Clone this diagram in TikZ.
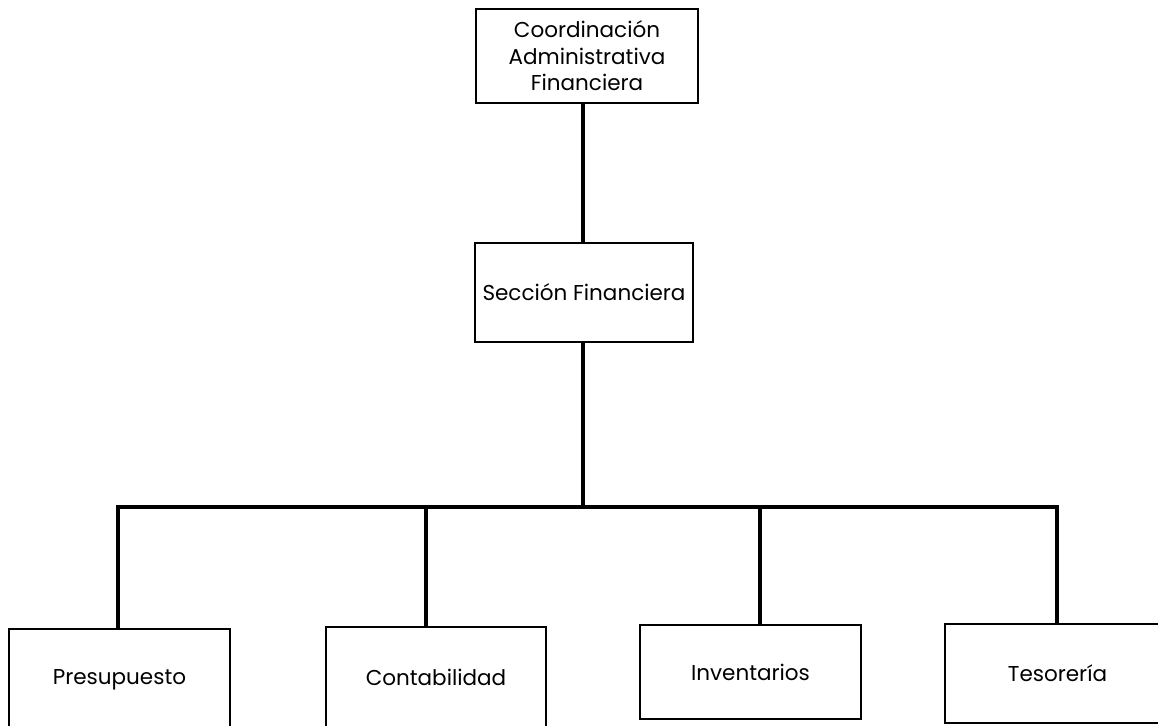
\documentclass[tikz,border=0pt]{standalone}
\usepackage{fontspec}
\setmainfont{Poppins}
\begin{document}
\begin{tikzpicture}[x=1pt,y=-1pt,
  box/.style={draw=black,line width=2.2pt,fill=white,inner sep=0pt,
    font=\fontsize{21.5}{26.5}\selectfont,align=center},
  link/.style={draw=black,line width=4pt}]
\useasboundingbox (0,0) rectangle (1158,725);
\clip (0,0) rectangle (1158,725);
% boxes
\node[box,minimum width=222pt,minimum height=94pt] (coord) at (587,56)
  {Coordinación\\Administrativa\\Financiera};
\node[box,minimum width=218pt,minimum height=99pt] (sec) at (584,292.5)
  {Sección Financiera};
\node[box,minimum width=221pt,minimum height=102pt] (pres) at (119.5,680)
  {Presupuesto};
\node[box,minimum width=220pt,minimum height=100pt] (cont) at (436,677)
  {Contabilidad};
\node[box,minimum width=221pt,minimum height=94pt] (inv) at (750.5,672)
  {Inventarios};
\node[box,minimum width=225pt,minimum height=99pt] (tes) at (1057.5,673.5)
  {Tesorería};
% junction points on the horizontal bus
\coordinate (jsec) at (583,507);
\coordinate (j1) at (118,507);
\coordinate (j2) at (426,507);
\coordinate (j3) at (760,507);
\coordinate (j4) at (1057,507);
% connectors
\draw[link,line width=3.2pt] (sec.north -| jsec) -- (jsec |- coord.south);
\draw[link] (sec.south -| jsec) -- (jsec);
\draw[link,line width=3.4pt,line cap=rect] (j1) -- (j4);
\draw[link] (j1) -- (j1 |- pres.north);
\draw[link] (j2) -- (j2 |- cont.north);
\draw[link] (j3) -- (j3 |- inv.north);
\draw[link] (j4) -- (j4 |- tes.north);
\end{tikzpicture}
\end{document}
